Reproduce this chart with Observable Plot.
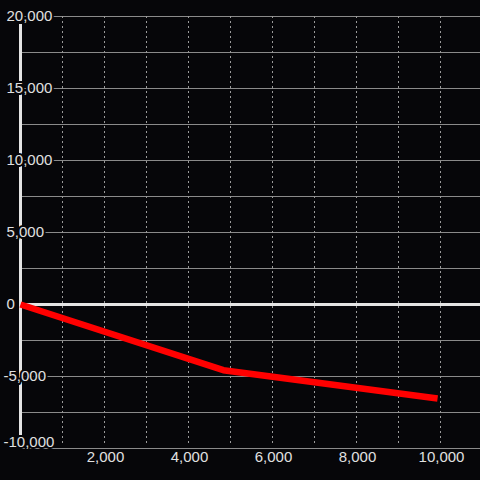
<!DOCTYPE html>
<html>
<head>
<meta charset="utf-8">
<script src="https://cdn.jsdelivr.net/npm/d3@7"></script>
<script src="https://cdn.jsdelivr.net/npm/@observablehq/plot@0.6"></script>
<style>
  html, body { margin: 0; padding: 0; background: #060609; }
  #chart svg { display: block; }
</style>
</head>
<body>
<div id="chart"></div>
<script>
// Data
const xs = [0, 4830, 9930];
const ys = [0, -4560, -6530];
const yTicks = [20000, 15000, 10000, 5000, 0, -5000, -10000];
const yGrid = [20000, 17500, 15000, 12500, 10000, 7500, 5000, 2500, -2500, -5000, -7500, -10000];
const xTicks = [2000, 4000, 6000, 8000, 10000];
const xGrid = [1000, 2000, 3000, 4000, 5000, 6000, 7000, 8000, 9000, 10000];

const data = xs.map((x, i) => ({x, y: ys[i]}));
const bg = "#060609";
const fmt = d3.format(",");
const lab = d => fmt(d).replace("−", "-");

const chart = Plot.plot({
  width: 480,
  height: 480,
  marginLeft: 20,
  marginRight: 0,
  marginTop: 16,
  marginBottom: 32,
  style: {background: bg, fontFamily: "'Liberation Sans', Arial, sans-serif", fontSize: "15px"},
  x: {domain: [0, 10952], axis: null},
  y: {domain: [-10000, 20000], axis: null},
  marks: [
    Plot.ruleY(yGrid, {stroke: "#8a8a8a", strokeWidth: 1}),
    Plot.ruleX(xGrid, {stroke: "#9a9a9a", strokeWidth: 1, strokeDasharray: "2,3", insetBottom: 2}),
    Plot.ruleY([0], {stroke: "#e4e4e4", strokeWidth: 3}),
    Plot.ruleX([0], {stroke: "#e4e4e4", strokeWidth: 3, insetTop: 8, insetBottom: 13}),
    Plot.text(yTicks.filter(d => d >= 0), {
      y: d => d, text: lab, frameAnchor: "left", textAnchor: "start", dx: -14,
      fill: "#e0e0e0", stroke: bg, strokeWidth: 4, fontSize: 15
    }),
    Plot.text(yTicks.filter(d => d < 0 && d > -10000), {
      y: d => d, text: lab, frameAnchor: "left", textAnchor: "start", dx: -17,
      fill: "#e0e0e0", stroke: bg, strokeWidth: 4, fontSize: 15
    }),
    Plot.text(yTicks.filter(d => d === -10000), {
      y: d => d, text: lab, frameAnchor: "left", textAnchor: "start", dx: -17, dy: -6,
      fill: "#e0e0e0", stroke: bg, strokeWidth: 4, fontSize: 15
    }),
    Plot.text(xTicks, {
      x: d => d, text: lab, frameAnchor: "bottom", dy: 13, dx: 1,
      fill: "#e0e0e0", fontSize: 15
    }),
    Plot.line(data, {x: "x", y: "y", stroke: "#ff0000", strokeWidth: 6.5, strokeLinecap: "butt", strokeLinejoin: "round"})
  ]
});
document.getElementById("chart").append(chart);
</script>
</body>
</html>
